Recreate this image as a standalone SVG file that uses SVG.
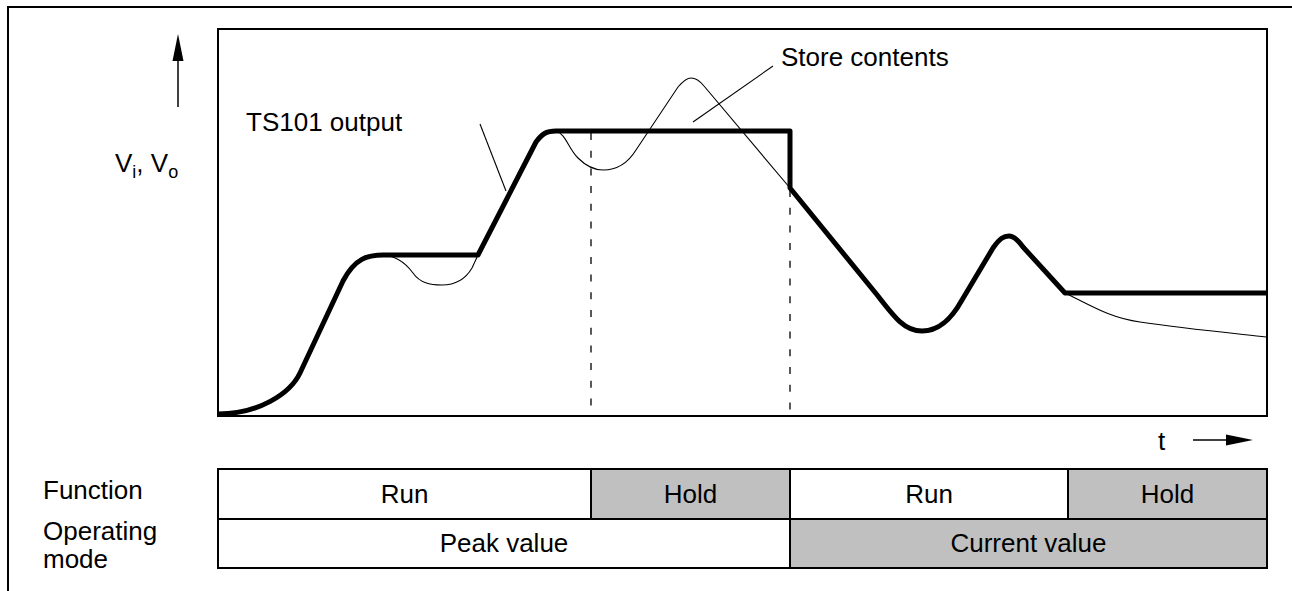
<svg xmlns="http://www.w3.org/2000/svg" width="1292" height="591" viewBox="0 0 1292 591">
<style>
  text { font-family: "Liberation Sans", Arial, sans-serif; font-size: 26px; fill: #000; }
  .mid { text-anchor: middle; }
  .frame { fill: none; stroke: #000; stroke-width: 2; }
  .thick { fill: none; stroke: #000; stroke-width: 5; stroke-linejoin: round; stroke-linecap: butt; }
  .thin { fill: none; stroke: #000; stroke-width: 1.1; }
  .dash { fill: none; stroke: #000; stroke-width: 1.3; stroke-dasharray: 7 10.7; }
  .cell { stroke: #000; stroke-width: 2; }
  .white { fill: #fff; }
  .grey { fill: #c0c0c0; }
  .arrowline { stroke: #000; stroke-width: 1.5; }
  .head { fill: #000; }
</style>
<rect width="1292" height="591" fill="#fff"/>

<g id="outer-frame">
  <path class="frame" d="M8,591 L8,7 L1292,7"/>
</g>

<g id="plot-area">
  <rect class="frame" x="218" y="29" width="1049" height="387"/>
</g>

<g id="axes">
  <line class="arrowline" x1="178" y1="107" x2="178" y2="58"/>
  <polygon class="head" points="178,34 172.5,61 183.5,61"/>
  <line class="arrowline" x1="1193" y1="440" x2="1230" y2="440"/>
  <polygon class="head" points="1253,440 1226,434.5 1226,445.5"/>
  <text x="115" y="172">V<tspan font-size="18" dy="6">i</tspan><tspan dy="-6">, V</tspan><tspan font-size="18" dy="6">o</tspan></text>
  <text x="1158" y="450">t</text>
</g>

<g id="markers">
  <line class="dash" x1="591" y1="133" x2="591" y2="416"/>
  <line class="dash" x1="790" y1="190" x2="790" y2="416"/>
</g>

<g id="input-signal">
  <path class="thin" d="M380,255 C395,255 405,262 413,273 C420,283 430,285 442,285 C455,285 465,280 472,268 L478,255"/>
  <path class="thin" d="M556,131 C566,134 568,148 578,158 C586,166 594,170 603,170 C618,170 628,163 636,150 L678,87 C684,80 687,78 691,78 C696,78 700,81 704,86 L790,188"/>
  <path class="thin" d="M1065,293 C1090,305 1110,318 1140,322 C1180,328 1230,333 1266,337"/>
</g>

<g id="ts101-output">
  <path class="thick" d="M218,414 C258,414 290,394 300,373 L343,281 C355,258 368,255 383,255 L478,255 L536,142 C542,134 546,131 556,131 L790,131 L790,188 L878,296 C895,318 905,331 922,331 C940,331 952,318 962,300 L993,248 C1000,238 1004,236 1009,236 C1014,236 1018,240 1023,247 L1065,293 L1267,293"/>
</g>

<g id="connectors">
  <line class="thin" x1="480" y1="124" x2="506" y2="191"/>
  <line class="thin" x1="773" y1="66" x2="693" y2="122"/>
</g>

<g id="label-ts101">
  <text x="246" y="131">TS101 output</text>
</g>
<g id="label-store">
  <text x="781" y="66">Store contents</text>
</g>

<g id="row-labels">
  <text x="43" y="499">Function</text>
  <text x="43" y="540">Operating</text>
  <text x="43" y="568">mode</text>
</g>

<g id="cell-run-1">
  <rect class="cell white" x="218" y="469" width="373" height="50"/>
  <text class="mid" x="404.5" y="503">Run</text>
</g>
<g id="cell-hold-1">
  <rect class="cell grey" x="591" y="469" width="199" height="50"/>
  <text class="mid" x="690.5" y="503">Hold</text>
</g>
<g id="cell-run-2">
  <rect class="cell white" x="790" y="469" width="278" height="50"/>
  <text class="mid" x="929" y="503">Run</text>
</g>
<g id="cell-hold-2">
  <rect class="cell grey" x="1068" y="469" width="199" height="50"/>
  <text class="mid" x="1167.5" y="503">Hold</text>
</g>
<g id="cell-peak">
  <rect class="cell white" x="218" y="519" width="572" height="49"/>
  <text class="mid" x="504" y="552">Peak value</text>
</g>
<g id="cell-current">
  <rect class="cell grey" x="790" y="519" width="477" height="49"/>
  <text class="mid" x="1028.5" y="552">Current value</text>
</g>
</svg>
